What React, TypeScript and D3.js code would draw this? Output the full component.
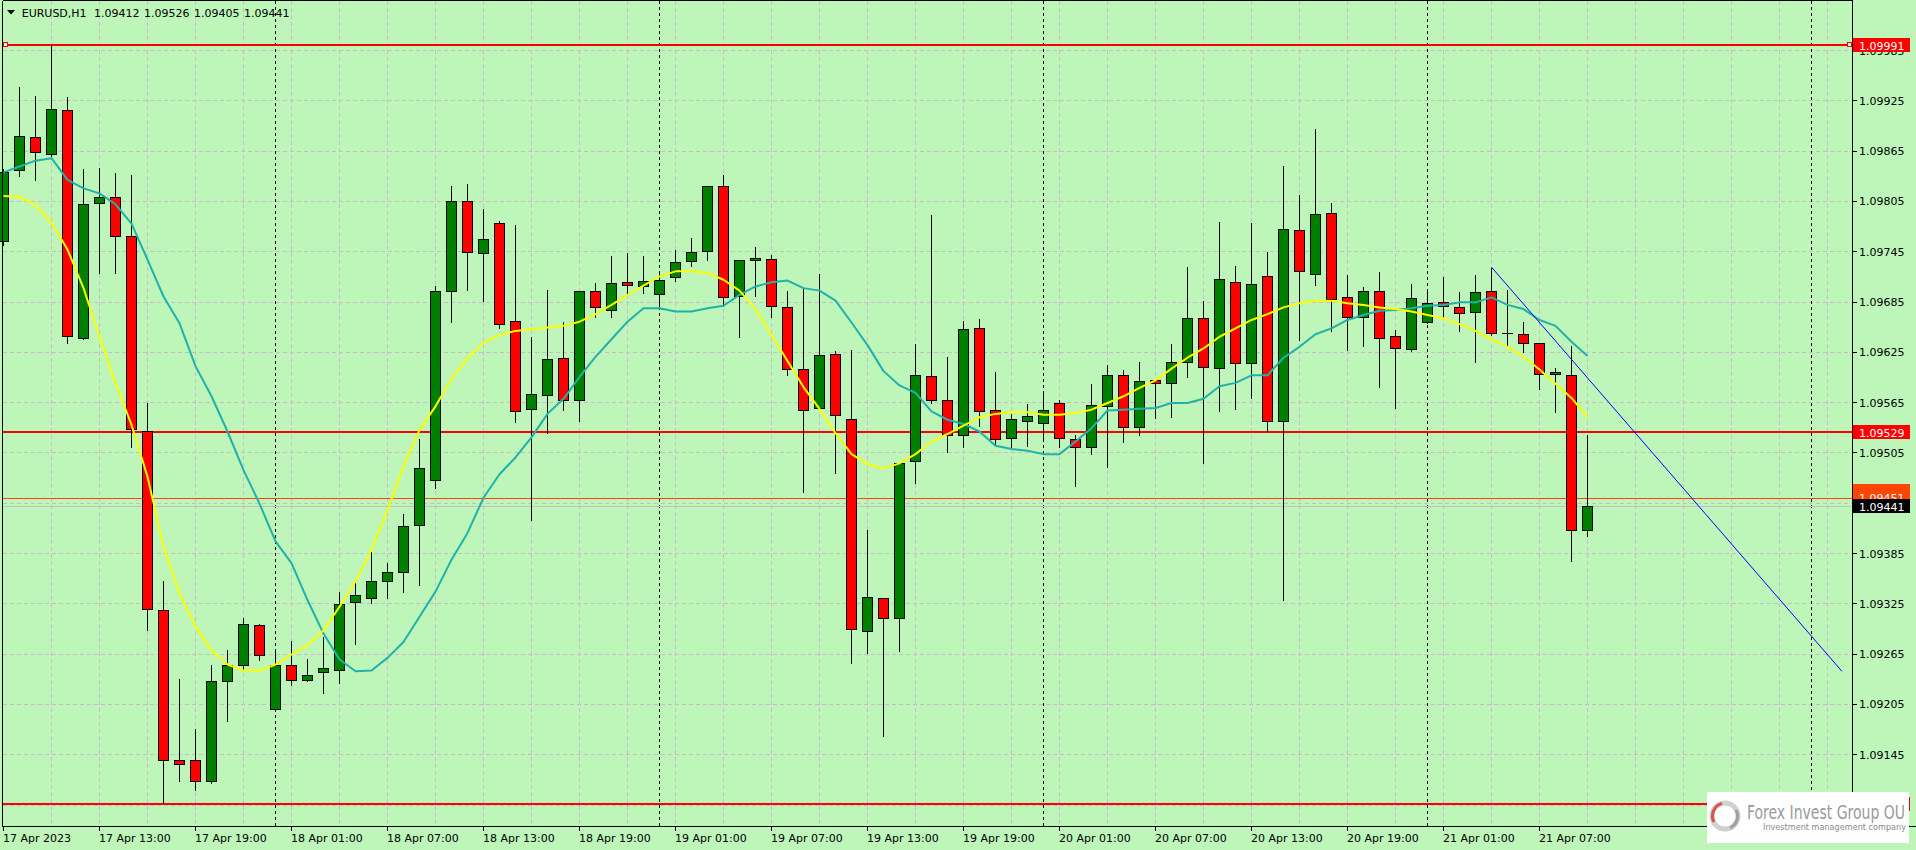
import React from "react";
import * as d3 from "d3";

const W = 1916;
const H = 850;

const symbolTitle = "EURUSD,H1";
const headerValues = ["1.09412", "1.09526", "1.09405", "1.09441"];

const opens = [
  1.09757, 1.09842, 1.09881, 1.09861, 1.09914, 1.09641, 1.09802, 1.0981, 1.09763, 1.09531,
  1.09317, 1.09138, 1.09138, 1.09113, 1.09233, 1.09252, 1.09299, 1.09199, 1.09252, 1.09234,
  1.09243, 1.09246, 1.09327, 1.09332, 1.09352, 1.09363, 1.09418, 1.09472, 1.09697, 1.09805,
  1.09743, 1.09779, 1.09662, 1.09557, 1.09573, 1.09618, 1.09568, 1.09698, 1.09675, 1.09708,
  1.09703, 1.09694, 1.09714, 1.09733, 1.09745, 1.09823, 1.09692, 1.09735, 1.09736, 1.09679,
  1.09604, 1.09558, 1.09622, 1.09545, 1.09292, 1.09332, 1.09308, 1.09495, 1.09596, 1.09568,
  1.09526, 1.09653, 1.09556, 1.09522, 1.09543, 1.0954, 1.09564, 1.09521, 1.09512, 1.09561,
  1.09597, 1.09535, 1.09591, 1.09588, 1.09613, 1.09665, 1.09606, 1.09708, 1.09612, 1.09715,
  1.09542, 1.0977, 1.09718, 1.09791, 1.09691, 1.09667, 1.09698, 1.09644, 1.09628, 1.0966,
  1.09684, 1.09679, 1.09672, 1.09697, 1.09648, 1.09646, 1.09636, 1.09598, 1.09597, 1.09412,
];
const highs = [
  1.09843, 1.09941, 1.0993, 1.09991, 1.09929, 1.09843, 1.09844, 1.09838, 1.09836, 1.09564,
  1.09352, 1.09235, 1.09175, 1.09251, 1.09269, 1.09307, 1.093, 1.0927, 1.0928, 1.09259,
  1.09285, 1.09339, 1.09353, 1.09386, 1.09373, 1.09432, 1.09521, 1.09703, 1.09823, 1.09825,
  1.09795, 1.09781, 1.09776, 1.09643, 1.09699, 1.0966, 1.09697, 1.09707, 1.09739, 1.09743,
  1.09739, 1.0972, 1.09747, 1.09761, 1.09823, 1.09836, 1.09735, 1.0975, 1.0974, 1.09698,
  1.097, 1.09718, 1.09626, 1.09627, 1.09412, 1.09332, 1.09493, 1.09634, 1.09788, 1.09619,
  1.09662, 1.09664, 1.09601, 1.09551, 1.09563, 1.09577, 1.09568, 1.09526, 1.09587, 1.09609,
  1.09603, 1.09613, 1.09591, 1.09634, 1.09726, 1.09686, 1.0978, 1.09727, 1.09779, 1.09744,
  1.09847, 1.09812, 1.09891, 1.09803, 1.09717, 1.09702, 1.0972, 1.09651, 1.09706, 1.09699,
  1.09714, 1.09696, 1.09717, 1.09725, 1.09699, 1.0966, 1.09636, 1.09606, 1.09632, 1.09526,
];
const lows = [
  1.09752, 1.09835, 1.0983, 1.09859, 1.09636, 1.0964, 1.09719, 1.09719, 1.09512, 1.09293,
  1.09087, 1.09113, 1.09102, 1.09111, 1.09185, 1.09246, 1.09257, 1.09199, 1.09228, 1.09233,
  1.09218, 1.0923, 1.09276, 1.09326, 1.09332, 1.09338, 1.09347, 1.09463, 1.0966, 1.09699,
  1.09686, 1.09653, 1.09541, 1.09425, 1.09528, 1.09556, 1.09543, 1.09667, 1.09667, 1.09693,
  1.09695, 1.0968, 1.09709, 1.09727, 1.09734, 1.0968, 1.09643, 1.09692, 1.09667, 1.09597,
  1.09458, 1.09558, 1.09481, 1.09254, 1.09266, 1.09167, 1.09268, 1.09468, 1.09564, 1.09506,
  1.09512, 1.09536, 1.09514, 1.09512, 1.09513, 1.09522, 1.09512, 1.09465, 1.09503, 1.09488,
  1.09518, 1.09526, 1.09546, 1.09547, 1.09595, 1.09493, 1.09555, 1.09557, 1.0957, 1.09531,
  1.09329, 1.09639, 1.09705, 1.0965, 1.09627, 1.09632, 1.09583, 1.09558, 1.09626, 1.09659,
  1.09667, 1.0965, 1.09613, 1.09645, 1.09631, 1.09625, 1.09581, 1.09553, 1.09376, 1.09405,
];
const closes = [
  1.09839, 1.09883, 1.09863, 1.09915, 1.09644, 1.09801, 1.0981, 1.09763, 1.09533, 1.09318,
  1.09138, 1.09134, 1.09113, 1.09233, 1.09252, 1.09301, 1.09263, 1.09252, 1.09234, 1.09239,
  1.09248, 1.09324, 1.09335, 1.09352, 1.09363, 1.09417, 1.09487, 1.09698, 1.09805, 1.09744,
  1.0976, 1.09658, 1.09554, 1.09575, 1.09616, 1.09567, 1.09697, 1.09678, 1.09707, 1.09705,
  1.09709, 1.09711, 1.09732, 1.09744, 1.09823, 1.09691, 1.09734, 1.09737, 1.0968, 1.09604,
  1.09556, 1.09621, 1.0955, 1.09294, 1.09333, 1.09308, 1.09493, 1.09597, 1.09567, 1.09526,
  1.09652, 1.09554, 1.09521, 1.09545, 1.09549, 1.09556, 1.09522, 1.09512, 1.09562, 1.09597,
  1.09535, 1.0959, 1.09588, 1.09613, 1.09665, 1.09607, 1.09712, 1.09612, 1.09706, 1.09543,
  1.09771, 1.09721, 1.09789, 1.09688, 1.09666, 1.09698, 1.09641, 1.09629, 1.09689, 1.09683,
  1.0968, 1.09671, 1.09696, 1.09647, 1.09648, 1.09636, 1.09599, 1.09601, 1.09413, 1.09441,
];

const maFast = [
  1.09811, 1.0981, 1.098, 1.09779, 1.09747, 1.09701, 1.09643, 1.09588, 1.09538, 1.09476,
  1.09393, 1.09337, 1.09297, 1.09269, 1.09252, 1.09245, 1.09245, 1.09252, 1.09264, 1.09275,
  1.09293, 1.09321, 1.09351, 1.09389, 1.09436, 1.09488, 1.09532, 1.0956, 1.09593, 1.09617,
  1.09636, 1.09645, 1.0965, 1.09652, 1.09654, 1.09656, 1.09661, 1.0967, 1.09681, 1.09693,
  1.09704, 1.09715, 1.09721, 1.09721, 1.09719, 1.09711, 1.09698, 1.09676, 1.09645, 1.09614,
  1.09583, 1.09557, 1.09528, 1.09503, 1.09491, 1.09486, 1.09492, 1.09503, 1.09518, 1.09527,
  1.09537, 1.09547, 1.09551, 1.09553, 1.09553, 1.0955, 1.0955, 1.09552, 1.09556, 1.09564,
  1.09572, 1.09582, 1.09591, 1.09605, 1.09618, 1.09629, 1.09643, 1.09653, 1.09663, 1.0967,
  1.09678, 1.09683, 1.09686, 1.09686, 1.09683, 1.09681, 1.09678, 1.09676, 1.09673, 1.09669,
  1.09665, 1.09658, 1.0965, 1.0964, 1.09631, 1.09619, 1.09604, 1.09587, 1.0957, 1.09547,
];
const maSlow = [
  1.09839, 1.09846, 1.09853, 1.09856, 1.0983, 1.0982, 1.09814, 1.09801, 1.09778, 1.09735,
  1.09691, 1.09659, 1.09608, 1.09572, 1.0953, 1.09484, 1.09444, 1.09399, 1.09373, 1.09329,
  1.09289, 1.09258, 1.09244, 1.09245, 1.0926, 1.09279, 1.09309, 1.09339, 1.09377, 1.09409,
  1.09451, 1.09479, 1.09499, 1.09523, 1.09551, 1.09569, 1.09595, 1.09619, 1.0964, 1.09661,
  1.09677, 1.09677, 1.09673, 1.09673, 1.09677, 1.0968, 1.09693, 1.09703, 1.09708, 1.0971,
  1.09701, 1.09698, 1.09686, 1.0966, 1.09633, 1.09602, 1.09585, 1.09576, 1.09554, 1.09544,
  1.09539, 1.0953, 1.09513, 1.09509, 1.09507, 1.09503, 1.09503, 1.09518, 1.09534, 1.09555,
  1.09556, 1.09557, 1.09558, 1.09564, 1.09564, 1.09569, 1.09584, 1.09588, 1.09597, 1.09597,
  1.09618, 1.09631, 1.09646, 1.09653, 1.09663, 1.09669, 1.09674, 1.09675, 1.09677, 1.0968,
  1.09681, 1.09684, 1.09684, 1.0969, 1.09681, 1.09676, 1.09663, 1.09656, 1.09637, 1.0962,
];

const timeLabels = [
  "17 Apr 2023", "17 Apr 13:00", "17 Apr 19:00", "18 Apr 01:00", "18 Apr 07:00", "18 Apr 13:00",
  "18 Apr 19:00", "19 Apr 01:00", "19 Apr 07:00", "19 Apr 13:00", "19 Apr 19:00", "20 Apr 01:00",
  "20 Apr 07:00", "20 Apr 13:00", "20 Apr 19:00", "21 Apr 01:00", "21 Apr 07:00",
];
const timeLabelBars = [0, 6, 12, 18, 24, 30, 36, 42, 48, 54, 60, 66, 72, 78, 84, 90, 96];
const daySeparatorBars = [17, 41, 65, 89, 113];
const gridBars = [3, 6, 9, 12, 15, 18, 21, 24, 27, 30, 33, 36, 39, 42, 45, 48, 51, 54, 57, 60, 63, 66, 69, 72, 75, 78, 81, 84, 87, 90, 93, 96, 99, 102, 105, 108, 111, 114];

const priceTicks = [1.09085, 1.09145, 1.09205, 1.09265, 1.09325, 1.09385, 1.09445, 1.09505, 1.09565, 1.09625, 1.09685, 1.09745, 1.09805, 1.09865, 1.09925, 1.09985];
const priceTickLabels = ["1.09085", "1.09145", "1.09205", "1.09265", "1.09325", "1.09385", "1.09445", "1.09505", "1.09565", "1.09625", "1.09685", "1.09745", "1.09805", "1.09865", "1.09925", "1.09985"];

const levelPrices = [1.09991, 1.09529, 1.09086];
const levelLabels = ["1.09991", "1.09529", "1.09086"];
const orangeLevel = 1.09451;
const orangeLabel = "1.09451";
const bidLevel = 1.09441;
const bidLabel = "1.09441";

const trendBars = [93, 114.9];
const trendPrices = [1.09726, 1.09244];

const BG = "#BEF5B9";
const GRID = "#C8BCC8";
const FONT = "'DejaVu Sans', Verdana, sans-serif";

export default function App() {
  const x = d3.scaleLinear().domain([0, 1]).range([3.5, 19.5]);
  const y = d3.scaleLinear().domain([1.09145, 1.09985]).range([754.3, 50]);
  const cr = (v: number) => Math.round(v) + 0.5;

  const PL = 2.5, PT = 0.5, PR = 1852.5, PB = 826;

  const maLine = d3.line<number>().x((_, i) => x(i)).y((d) => y(d));
  const trendLine = d3.line<number>().x((d) => x(d)).y((_, i) => y(trendPrices[i]));

  const bidY = y(bidLevel);
  const orY = y(orangeLevel);

  return (
    <div style={{ position: "absolute", left: 0, top: 0, width: W, height: H }}>
      <svg width={W} height={H} style={{ display: "block" }} fontFamily={FONT}>
        <rect x={0} y={0} width={W} height={H} fill={BG} />

        {/* grid */}
        <g shapeRendering="crispEdges" stroke={GRID} strokeWidth={1} strokeDasharray="4,3">
          {priceTicks.map((p, i) => (
            <line key={"h" + i} x1={PL} x2={PR} y1={cr(y(p))} y2={cr(y(p))} />
          ))}
          {gridBars.map((b) => (
            <line key={"v" + b} x1={x(b)} x2={x(b)} y1={PT} y2={PB} />
          ))}
        </g>

        {/* day separators */}
        <g shapeRendering="crispEdges" stroke="#000" strokeWidth={1} strokeDasharray="3,3">
          {daySeparatorBars.map((b) => (
            <line key={"d" + b} x1={x(b)} x2={x(b)} y1={PT} y2={PB} />
          ))}
        </g>

        {/* horizontal levels */}
        <g shapeRendering="crispEdges">
          <line x1={PL} x2={PR} y1={cr(bidY)} y2={cr(bidY)} stroke="#C0C0C0" strokeWidth={1} />
          <line x1={PL} x2={PR} y1={cr(orY)} y2={cr(orY)} stroke="#FF4500" strokeWidth={1} />
          {levelPrices.map((p, i) => (
            <line key={"lv" + i} x1={PL} x2={PR} y1={Math.round(y(p))} y2={Math.round(y(p))} stroke="#FF0000" strokeWidth={2} />
          ))}
        </g>
        <rect x={3.5} y={Math.round(y(levelPrices[0])) - 2.5} width={4} height={4} fill="#fff" stroke="#FF0000" strokeWidth={1} shapeRendering="crispEdges" />
        <rect x={1847.5} y={Math.round(y(levelPrices[0])) - 2.5} width={4} height={4} fill="#fff" stroke="#FF0000" strokeWidth={1} shapeRendering="crispEdges" />

        {/* candles */}
        <g shapeRendering="crispEdges">
          {opens.map((o, i) => {
            const c = closes[i];
            const cx = x(i);
            const yo = Math.round(y(o));
            const yc = Math.round(y(c));
            const top = Math.min(yo, yc);
            const bot = Math.max(yo, yc);
            return (
              <g key={"c" + i}>
                <line x1={cx} x2={cx} y1={Math.round(y(highs[i]))} y2={Math.round(y(lows[i])) + 1} stroke="#000" strokeWidth={1} />
                {bot - top < 1 ? (
                  <line x1={cx - 5.5} x2={cx + 5.5} y1={top + 0.5} y2={top + 0.5} stroke="#000" strokeWidth={1} />
                ) : (
                  <rect x={cx - 5} y={top + 0.5} width={10} height={bot - top} fill={c > o ? "#008000" : "#FF0000"} stroke="#000" strokeWidth={1} />
                )}
              </g>
            );
          })}
        </g>

        {/* moving averages */}
        <path d={maLine(maSlow) || ""} fill="none" stroke="#20B2AA" strokeWidth={2} strokeLinejoin="round" />
        <path d={maLine(maFast) || ""} fill="none" stroke="#FFFF00" strokeWidth={2} strokeLinejoin="round" />

        {/* trend line */}
        <path d={trendLine(trendBars) || ""} fill="none" stroke="#0000FF" strokeWidth={1} />

        {/* frame / axes */}
        <g shapeRendering="crispEdges" stroke="#000" strokeWidth={1}>
          <line x1={PL} x2={PR} y1={PT} y2={PT} />
          <line x1={PL} x2={PL} y1={PT} y2={PB} />
          <line x1={PR} x2={PR} y1={PT} y2={PB} />
          <line x1={PL - 0.5} x2={W} y1={PB + 0.5} y2={PB + 0.5} />
          {priceTicks.map((p, i) => (
            <line key={"pt" + i} x1={PR} x2={PR + 4} y1={cr(y(p))} y2={cr(y(p))} />
          ))}
          {timeLabelBars.map((b) => (
            <line key={"tt" + b} x1={x(b)} x2={x(b)} y1={PB} y2={PB + 5} />
          ))}
        </g>

        {/* price labels */}
        <g fontSize={11} fill="#000">
          {priceTicks.map((p, i) => (
            <text key={"pl" + i} x={1859} y={y(p) + 4.5}>{priceTickLabels[i]}</text>
          ))}
        </g>

        {/* time labels */}
        <g fontSize={11} fill="#000">
          {timeLabelBars.map((b, i) => (
            <text key={"tl" + i} x={x(b) - 0.5} y={842}>{timeLabels[i]}</text>
          ))}
        </g>

        {/* level label boxes */}
        <g fontSize={11}>
          {levelPrices.map((p, i) => {
            const yy = Math.round(y(p));
            return (
              <g key={"lb" + i}>
                <rect x={1853} y={yy - 7} width={57} height={14} fill="#FF0000" />
                <text x={1859} y={yy + 4.5} fill="#fff">{levelLabels[i]}</text>
              </g>
            );
          })}
          <rect x={1853} y={Math.round(orY) - 14} width={57} height={16} fill="#FF4500" />
          <text x={1859} y={orY + 4.5} fill="#fff">{orangeLabel}</text>
          <rect x={1853} y={Math.round(bidY) - 7} width={57} height={14} fill="#000" />
          <text x={1859} y={Math.round(bidY) + 4.5} fill="#fff">{bidLabel}</text>
        </g>

        {/* header */}
        <polygon points="7,10 15,10 11,14.5" fill="#000" />
        <g fontSize={11} fill="#000">
          <text x={21.7} y={16.7}>{symbolTitle}</text>
          {headerValues.map((v, i) => (
            <text key={"hv" + i} x={94 + i * 50} y={16.7}>{v}</text>
          ))}
        </g>

        {/* logo */}
        <g>
          <rect x={1707} y={792} width={202} height={51} fill="#fff" />
          <circle cx={1725} cy={816} r={13} fill="none" stroke="#d0d0d0" strokeWidth={5} />
          <path d="M1714,822 A13,13 0 0 1 1722,803.4" fill="none" stroke="#d9534f" strokeWidth={3} />
          <path d="M1736,810 A13,13 0 0 1 1730,828" fill="none" stroke="#a0a0a0" strokeWidth={3} />
          <text x={1747} y={819} fontSize={19} fill="#9a9a9a" textLength={158} lengthAdjust="spacingAndGlyphs" fontFamily="'DejaVu Sans Condensed', 'DejaVu Sans', sans-serif">Forex Invest Group OU</text>
          <text x={1763} y={830} fontSize={8.5} fill="#8a8a8a" textLength={143} lengthAdjust="spacingAndGlyphs">Investment management company</text>
        </g>
      </svg>
    </div>
  );
}
